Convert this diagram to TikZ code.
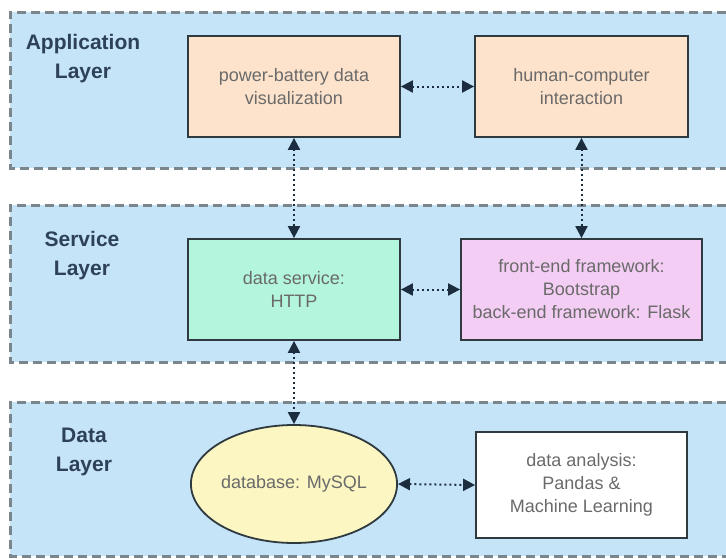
\documentclass[tikz,border=0pt]{standalone}
\usepackage{fontspec}
\setmainfont{Liberation Sans}
\usetikzlibrary{arrows.meta,shapes.geometric}
\definecolor{layerfill}{HTML}{C6E4F7}
\definecolor{layerline}{HTML}{7A858C}
\definecolor{labelcol}{HTML}{2E4257}
\definecolor{boxline}{HTML}{2E3A40}
\definecolor{txtcol}{HTML}{6A6A6A}
\definecolor{orangefill}{HTML}{FDE3CB}
\definecolor{greenfill}{HTML}{B4F5DE}
\definecolor{pinkfill}{HTML}{F3CDF3}
\definecolor{yellowfill}{HTML}{FBF6C2}
\definecolor{arrowcol}{HTML}{1C2D40}
\tikzset{
  layerbg/.style={fill=layerfill, draw=none},
  layeredge/.style={draw=layerline, line width=3pt, dash pattern=on 9pt off 5pt},
  layerlabel/.style={text=labelcol, font=\fontsize{21}{29}\selectfont\bfseries, align=center},
  boxnode/.style={draw=boxline, line width=1.8pt, text=txtcol, align=center,
     font=\fontsize{18}{23}\selectfont, inner sep=0pt},
  link/.style={draw=arrowcol, line width=2pt, dash pattern=on 2pt off 3pt,
     {Triangle[length=12pt,width=12pt]}-{Triangle[length=12pt,width=12pt]}}
}
\begin{document}
\begin{tikzpicture}[x=1pt,y=-1pt]
\useasboundingbox (0,0) rectangle (726,558);
\fill[white] (0,0) rectangle (726,558);
% layers
\fill[layerbg] (10,12) rectangle (726,168);
\fill[layerbg] (10,205) rectangle (726,362);
\fill[layerbg] (10,402) rectangle (726,556);
\draw[layeredge] (726,12) -- (10,12) -- (10,168) -- (726,168);
\draw[layeredge] (726,205) -- (10,205) -- (10,362) -- (726,362);
\draw[layeredge] (726,402) -- (10,402) -- (10,556) -- (726,556);
% labels
\node[layerlabel] (lapp) at (83,59) {Application\\Layer};
\node[layerlabel] (lsrv) at (82,256) {Service\\Layer};
\node[layerlabel] (ldat) at (84,452) {Data\\Layer};
% boxes
\node[boxnode, fill=orangefill, minimum width=212pt, minimum height=101pt] (pbdv) at (294,86.5) {power-battery data\\visualization};
\node[boxnode, fill=orangefill, minimum width=213pt, minimum height=101pt] (hci) at (581.5,86.5) {human-computer\\interaction};
\node[boxnode, fill=greenfill, minimum width=212pt, minimum height=101pt] (ds) at (294,289.5) {data service:\\HTTP};
\node[boxnode, fill=pinkfill, minimum width=241pt, minimum height=101pt] (fe) at (581.5,289.5) {front-end framework:\\Bootstrap\\back-end framework: Flask};
\node[boxnode, ellipse, fill=yellowfill, minimum width=204pt, minimum height=118pt] (db) at (294,484) {database: MySQL};
\node[boxnode, fill=white, minimum width=211pt, minimum height=106pt] (da) at (581.5,485) {data analysis:\\Pandas \&\\Machine Learning};
% connectors
\draw[link] (pbdv.east) -- (hci.west);
\draw[link] (pbdv.south) -- (ds.north);
\draw[link] (hci.south) -- (fe.north);
\draw[link] (ds.east) -- (fe.west);
\draw[link] (ds.south) -- (db.north);
\draw[link] (db.east) -- (da.west);
\end{tikzpicture}
\end{document}
